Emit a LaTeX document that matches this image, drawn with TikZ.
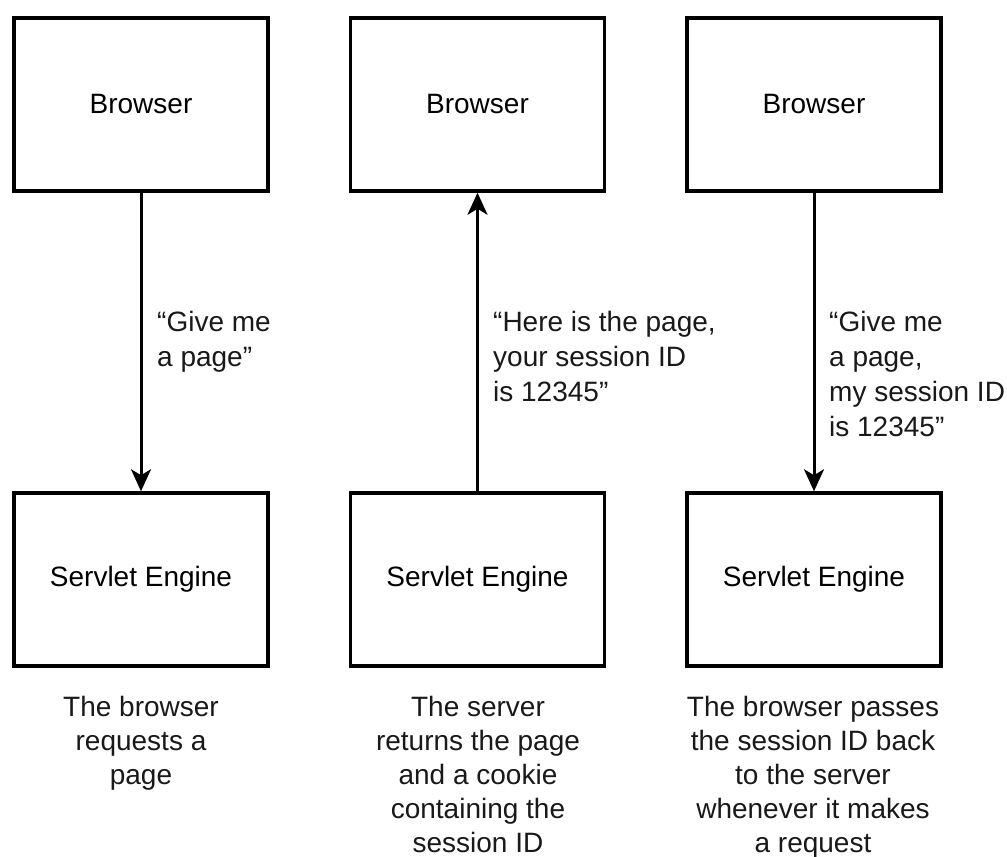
\documentclass[tikz,border=0pt]{standalone}
\usepackage{fontspec}
\setmainfont{Liberation Sans}
\usetikzlibrary{arrows.meta}
\begin{document}
\begin{tikzpicture}[x=1pt,y=-1pt,
  box/.style={draw, line width=3.5pt, minimum width=254pt, minimum height=173pt, inner sep=0pt, font=\fontsize{28}{35}\selectfont},
  msg/.style={anchor=north west, align=left, inner sep=0pt, font=\fontsize{28}{35}\selectfont, text=black!90},
  captext/.style={anchor=north, align=center, inner sep=0pt, font=\fontsize{28}{34}\selectfont, text=black!90},
  arr/.style={line width=3pt, -{Stealth[length=22pt,width=20pt,inset=6pt]}}]
\useasboundingbox[fill=white] (0,0) rectangle (1007,857);
% top boxes
\node[box] (b1) at (141,104.5) {Browser};
\node[box] (b2) at (477.5,104.5) {Browser};
\node[box] (b3) at (814,104.5) {Browser};
% bottom boxes
\node[box] (s1) at (141,579.5) {Servlet Engine};
\node[box] (s2) at (477.5,579.5) {Servlet Engine};
\node[box] (s3) at (814,579.5) {Servlet Engine};
% connectors
\draw[arr] (b1.south) -- (s1.north);
\draw[arr] (s2.north) -- (b2.south);
\draw[arr] (b3.south) -- (s3.north);
% messages
\node[msg] (m1) at (157,311) {``Give me\\a page''};
\node[msg] (m2) at (493,311) {``Here is the page,\\your session ID\\is 12345''};
\node[msg] (m3) at (829,311) {``Give me\\a page,\\my session ID\\is 12345''};
% captions
\node[captext] (c1) at (141,696) {The browser\\requests a\\page};
\node[captext] (c2) at (478,696) {The server\\returns the page\\and a cookie\\containing the\\session ID};
\node[captext] (c3) at (813,696) {The browser passes\\the session ID back\\to the server\\whenever it makes\\a request};
\end{tikzpicture}
\end{document}
